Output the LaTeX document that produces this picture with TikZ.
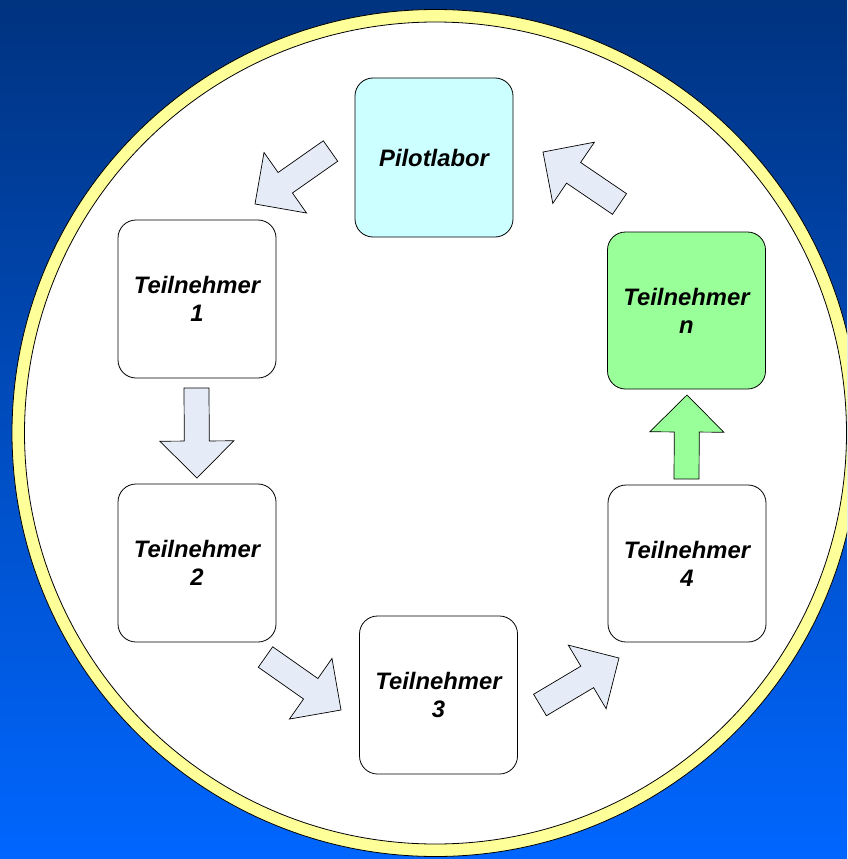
\documentclass[tikz,border=0pt]{standalone}
\usepackage{fontspec}
\setmainfont{Liberation Sans}
\usetikzlibrary{calc}
\definecolor{bgtop}{HTML}{003380}
\definecolor{bgbot}{HTML}{0066FF}
\definecolor{ringyellow}{HTML}{FFFF99}
\definecolor{pilotcyan}{HTML}{CCFFFF}
\definecolor{nodegreen}{HTML}{99FF99}
\definecolor{arrowfill}{HTML}{E6ECF7}
\tikzset{
  stagebox/.style={draw=black, line width=0.8pt, rounded corners=18pt, fill=white,
    minimum width=158pt, minimum height=158pt, align=center, inner sep=2pt,
    font=\fontsize{23.8}{28}\selectfont\bfseries\itshape},
  blockarrow/.style={draw=black, line width=0.7pt, fill=arrowfill, line join=miter},
}
\newcommand\blockarr[3]{%
  \coordinate (shoulder) at ($(#2)!37pt!(#1)$);
  \filldraw[blockarrow, #3]
    ($(#1)!12.5pt!90:(#2)$) -- ($(shoulder)!12.5pt!90:(#2)$) -- ($(shoulder)!37pt!90:(#2)$)
    -- (#2) -- ($(shoulder)!37pt!-90:(#2)$) -- ($(shoulder)!12.5pt!-90:(#2)$)
    -- ($(#1)!12.5pt!-90:(#2)$) -- cycle;}
\begin{document}
\begin{tikzpicture}[x=1pt, y=-1pt]
\useasboundingbox (0,0) rectangle (847,859);
\clip (0,0) rectangle (847,859);
\shade[top color=bgtop, bottom color=bgbot] (0,0) rectangle (847,859);
\filldraw[fill=ringyellow, draw=black, line width=0.8pt] (435.5,433) circle[radius=423.5];
\filldraw[fill=white, draw=black, line width=0.8pt] (435.5,433) circle[radius=411];

\node[stagebox, fill=pilotcyan, minimum height=159pt] (pilot) at (434,157.5) {Pilotlabor};
\node[stagebox] (t1) at (197,299) {Teilnehmer\\1};
\node[stagebox] (t2) at (197,563) {Teilnehmer\\2};
\node[stagebox] (t3) at (438.5,695) {Teilnehmer\\3};
\node[stagebox, minimum height=157pt] (t4) at (687,563.5) {Teilnehmer\\4};
\node[stagebox, fill=nodegreen, minimum height=157pt] (tn) at (686.5,310.5) {Teilnehmer\\n};

\coordinate (a1t) at (330.5,151); \coordinate (a1h) at (255,204);
\coordinate (a2t) at (196.5,388); \coordinate (a2h) at (197,478);
\coordinate (a3t) at (265.5,657); \coordinate (a3h) at (341,710);
\coordinate (a4t) at (540,705);   \coordinate (a4h) at (619,658);
\coordinate (a5t) at (686.5,479); \coordinate (a5h) at (687,395);
\coordinate (a6t) at (619.5,204); \coordinate (a6h) at (543,152);

\blockarr{a1t}{a1h}{}
\blockarr{a2t}{a2h}{}
\blockarr{a3t}{a3h}{}
\blockarr{a4t}{a4h}{}
\blockarr{a5t}{a5h}{fill=nodegreen}
\blockarr{a6t}{a6h}{}
\end{tikzpicture}
\end{document}
